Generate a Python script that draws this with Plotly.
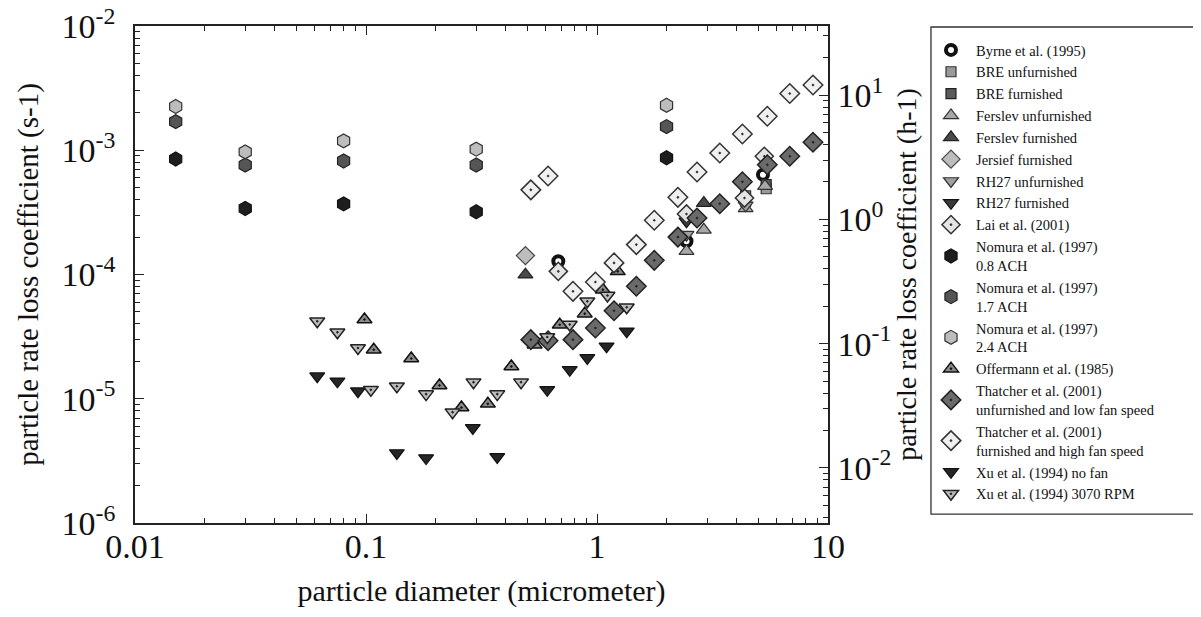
import plotly.graph_objects as go
import math

# ---------------- data ----------------
byrne_x = [0.68, 2.44, 5.23]
byrne_y = [1.28e-4, 1.85e-4, 6.36e-4]

bre_unf_x = [4.4, 5.4]
bre_unf_y = [4.3e-4, 4.9e-4]

bre_f_x = [4.4, 5.4]
bre_f_y = [3.9e-4, 5.3e-4]

ferslev_unf_x = [2.44, 2.90, 4.4, 5.34]
ferslev_unf_y = [1.54e-4, 2.29e-4, 3.4e-4, 5.15e-4]

ferslev_f_x = [0.49, 2.90]
ferslev_f_y = [9.96e-5, 3.76e-4]

jersief_x = [0.49]
jersief_y = [1.42e-4]

rh27_unf_x = [2.44, 4.4]
rh27_unf_y = [2.09e-4, 3.6e-4]

rh27_f_x = [2.44]
rh27_f_y = [2.68e-4]

lai_x = [0.68, 2.44, 4.35, 5.3]
lai_y = [1.06e-4, 3.07e-4, 4.13e-4, 8.94e-4]

nomura_x = [0.015, 0.03, 0.08, 0.3, 2.0]
nomura08_y = [8.5e-4, 3.4e-4, 3.7e-4, 3.2e-4, 8.7e-4]
nomura17_y = [1.70e-3, 7.6e-4, 8.2e-4, 7.6e-4, 1.55e-3]
nomura24_y = [2.25e-3, 9.7e-4, 1.19e-3, 1.02e-3, 2.3e-3]

offermann_x = [0.0985, 0.108, 0.157, 0.208, 0.259, 0.337, 0.426, 0.537, 0.69, 0.885, 1.06, 1.23]
offermann_y = [4.34e-5, 2.48e-5, 2.11e-5, 1.28e-5, 8.5e-6, 9.1e-6, 1.82e-5, 2.72e-5, 3.94e-5, 4.84e-5, 7.55e-5, 1.06e-4]

thatcher_x = [0.517, 0.614, 0.787, 0.984, 1.185, 1.48, 1.77, 2.24, 2.71, 3.40, 4.26, 5.46, 6.83, 8.61]
thatcher_unf_y = [2.99e-5, 2.93e-5, 2.99e-5, 3.71e-5, 5.11e-5, 8.04e-5, 1.30e-4, 2.00e-4,
                  2.85e-4, 3.71e-4, 5.58e-4, 7.64e-4, 8.94e-4, 1.16e-3]
thatcher_f_y = [4.8e-4, 6.2e-4, 7.32e-5, 8.7e-5, 1.24e-4, 1.74e-4, 2.73e-4, 4.18e-4,
                6.68e-4, 9.5e-4, 1.35e-3, 1.88e-3, 2.86e-3, 3.35e-3]

xu_nofan_x = [0.0615, 0.0752, 0.0923, 0.136, 0.182, 0.290, 0.370, 0.609, 0.762, 0.908, 1.10, 1.345]
xu_nofan_y = [1.52e-5, 1.38e-5, 1.15e-5, 3.66e-6, 3.33e-6, 5.82e-6, 3.40e-6, 1.18e-5, 1.71e-5, 2.13e-5, 2.64e-5, 3.49e-5]

xu_rpm_x = [0.0615, 0.0752, 0.0923, 0.105, 0.136, 0.182, 0.237, 0.292, 0.370, 0.469, 0.609, 0.762, 0.908, 1.11, 1.345]
xu_rpm_y = [4.2e-5, 3.43e-5, 2.56e-5, 1.18e-5, 1.26e-5, 1.09e-5, 7.8e-6, 1.36e-5, 1.09e-5, 1.36e-5,
            3.14e-5, 3.96e-5, 6.09e-5, 6.78e-5, 5.45e-5]

x_ticks = [0.01, 0.1, 1, 10]
x_ticktext = ["0.01", "0.1", "1", "10"]
y_ticks = [1e-6, 1e-5, 1e-4, 1e-3, 1e-2]
y_ticktext = ["10<sup>-6</sup>", "10<sup>-5</sup>", "10<sup>-4</sup>", "10<sup>-3</sup>", "10<sup>-2</sup>"]
y2_ticks = [1e-2, 1e-1, 1, 10]
y2_ticktext = ["10<sup>-2</sup>", "10<sup>-1</sup>", "10<sup>0</sup>", "10<sup>1</sup>"]
S_TO_H = 3600.0

FONT = "Liberation Serif"


def minor_vals(lo, hi):
    out = []
    d = math.floor(math.log10(lo)) - 1
    while 10 ** d <= hi:
        for m in range(2, 10):
            v = m * 10 ** d
            if lo < v < hi:
                out.append(v)
        d += 1
    return out


fig = go.Figure()


def add(name, xs, ys, symbol, fill, line="#111", lw=1.2, size=12):
    fig.add_trace(go.Scatter(
        x=xs, y=ys, mode="markers", name=name,
        marker=dict(symbol=symbol, size=size, color=fill,
                    line=dict(color=line, width=lw)),
    ))


add("Byrne et al. (1995)", byrne_x, byrne_y, "circle", "#ffffff", "#111", 4, 10)
add("BRE unfurnished", bre_unf_x, bre_unf_y, "square", "#9a9a9a", "#333", 1.2, 10)
add("BRE furnished", bre_f_x, bre_f_y, "square", "#5a5a5a", "#222", 1.2, 10)
add("Ferslev unfurnished", ferslev_unf_x, ferslev_unf_y, "triangle-up", "#a8a8a8", "#333", 1.2, 13)
add("Ferslev furnished", ferslev_f_x, ferslev_f_y, "triangle-up", "#4a4a4a", "#222", 1.2, 13)
add("Jersief furnished", jersief_x, jersief_y, "diamond", "#bdbdbd", "#444", 1.2, 14)
add("RH27 unfurnished", rh27_unf_x, rh27_unf_y, "triangle-down", "#a0a0a0", "#333", 1.2, 13)
add("RH27 furnished", rh27_f_x, rh27_f_y, "triangle-down", "#3a3a3a", "#111", 1.2, 13)
add("Lai et al. (2001)", lai_x, lai_y, "diamond-dot", "#e4e4e4", "#333", 1.5, 14)
add("Nomura et al. (1997)<br>0.8 ACH", nomura_x, nomura08_y, "hexagon", "#1e1e1e", "#111", 1.2, 14)
add("Nomura et al. (1997)<br>1.7 ACH", nomura_x, nomura17_y, "hexagon", "#555555", "#222", 1.2, 14)
add("Nomura et al. (1997)<br>2.4 ACH", nomura_x, nomura24_y, "hexagon", "#bdbdbd", "#333", 1.2, 14)
add("Offermann et al. (1985)", offermann_x, offermann_y, "triangle-up-dot", "#8a8a8a", "#111", 1.5, 13)
add("Thatcher et al. (2001)<br>unfurnished and low fan speed", thatcher_x, thatcher_unf_y, "diamond-dot", "#6a6a6a", "#222", 1.5, 15)
add("Thatcher et al. (2001)<br>furnished and high fan speed", thatcher_x, thatcher_f_y, "diamond-dot", "#f0f0f0", "#333", 1.5, 15)
add("Xu et al. (1994) no fan", xu_nofan_x, xu_nofan_y, "triangle-down", "#262626", "#111", 1.2, 13)
add("Xu et al. (1994) 3070 RPM", xu_rpm_x, xu_rpm_y, "triangle-down-dot", "#bcbcbc", "#222", 1.5, 13)

# invisible trace to attach the right-hand (h-1) axis
fig.add_trace(go.Scatter(x=[x_ticks[0]], y=[y_ticks[0] * S_TO_H], yaxis="y2", mode="markers",
                         marker=dict(opacity=0), showlegend=False, hoverinfo="skip"))

xmin, xmax = min(x_ticks), max(x_ticks)
ymin, ymax = min(y_ticks), max(y_ticks)

AX = dict(ticks="inside", ticklen=9, tickwidth=1.3, tickcolor="#222",
          showline=True, linecolor="#222", linewidth=1.5,
          showgrid=False, zeroline=False, automargin=False,
          ticklabeloverflow="allow",
          tickfont=dict(size=34, family=FONT, color="#111"))

# legend frame (paper coordinates)
fig.add_shape(type="rect", xref="paper", yref="paper",
              x0=1.1486, x1=1.544, y0=0.018, y1=0.998,
              line=dict(color="#333", width=1.3), fillcolor="rgba(0,0,0,0)", layer="below")

fig.update_layout(
    width=1201, height=617,
    margin=dict(l=127, r=381, t=18, b=102),
    paper_bgcolor="white", plot_bgcolor="white",
    font=dict(family=FONT, color="#111", size=15),
    xaxis=dict(
        type="log", range=[math.log10(xmin), math.log10(xmax)],
        tickvals=x_ticks, ticktext=x_ticktext, mirror="ticks",
        minor=dict(ticks="inside", ticklen=5, tickcolor="#222", tickwidth=1.1,
                   tickmode="array", tickvals=minor_vals(xmin, xmax), showgrid=False),
        ticklabelstandoff=-8,
        title=dict(text="particle diameter (micrometer)", font=dict(size=30, family=FONT), standoff=16),
        **AX,
    ),
    yaxis=dict(
        type="log", range=[math.log10(ymin), math.log10(ymax)],
        tickvals=y_ticks, ticktext=y_ticktext, mirror=True,
        minor=dict(ticks="inside", ticklen=5, tickcolor="#222", tickwidth=1.1,
                   tickmode="array", tickvals=minor_vals(ymin, ymax), showgrid=False),
        ticklabelstandoff=11,
        title=dict(text="particle rate loss coefficient (s-1)", font=dict(size=29, family=FONT), standoff=14),
        **AX,
    ),
    yaxis2=dict(
        type="log", overlaying="y", side="right", anchor="x",
        range=[math.log10(ymin * S_TO_H), math.log10(ymax * S_TO_H)],
        tickvals=y2_ticks, ticktext=y2_ticktext,
        minor=dict(ticks="inside", ticklen=5, tickcolor="#222", tickwidth=1.1,
                   tickmode="array", tickvals=minor_vals(ymin * S_TO_H, ymax * S_TO_H), showgrid=False),
        ticklabelstandoff=1,
        title=dict(text="particle rate loss coefficient (h-1)", font=dict(size=28, family=FONT), standoff=0),
        **AX,
    ),
    legend=dict(
        x=1.1414, y=0.984, xanchor="left", yanchor="top",
        borderwidth=0, bgcolor="rgba(0,0,0,0)",
        font=dict(size=14.5, family=FONT, color="#111"),
        tracegroupgap=0, itemwidth=40,
        maxheight=600,
    ),
    showlegend=True,
)

fig.write_html("out.html")
